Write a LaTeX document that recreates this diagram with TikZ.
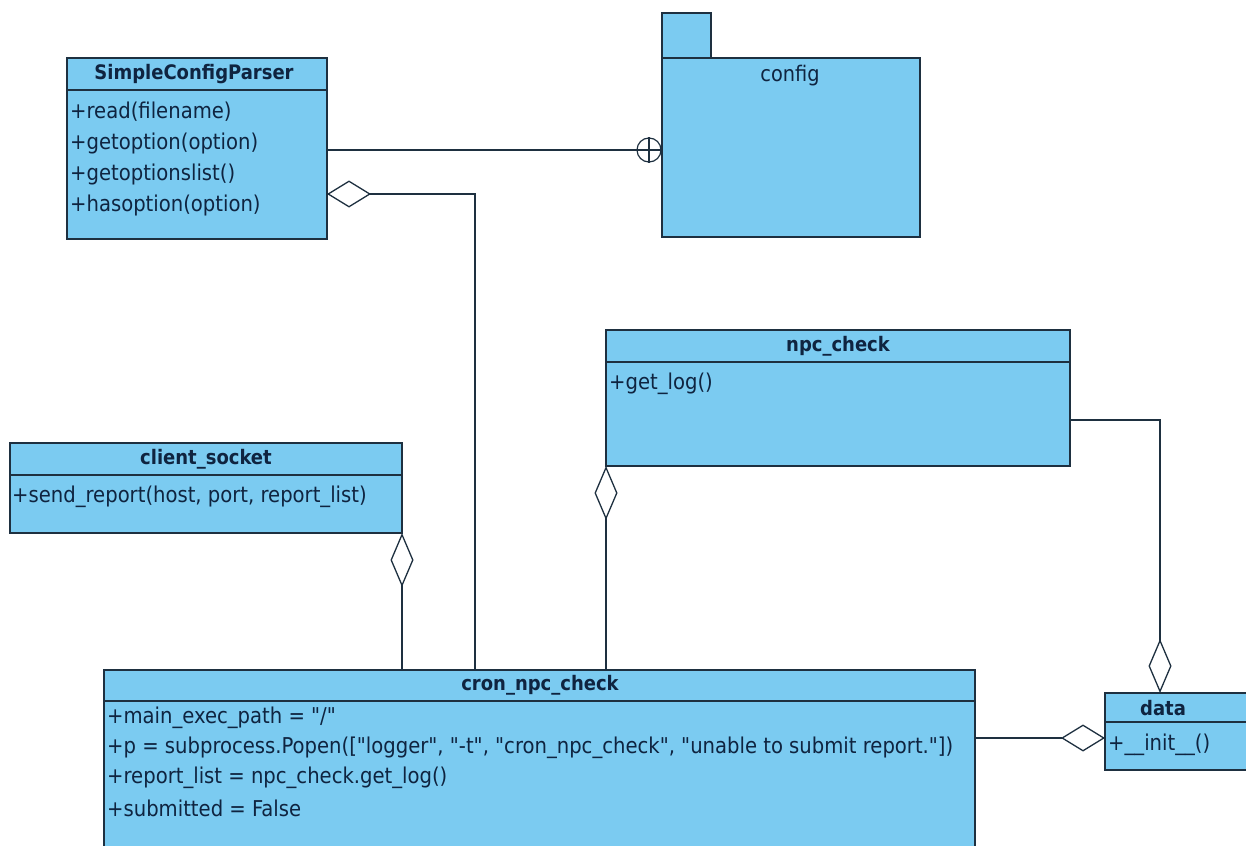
\documentclass[tikz,border=0pt]{standalone}
\usepackage{fontspec}
\setmainfont{DejaVu Sans Condensed}[Ligatures=TeXOff]
\usetikzlibrary{arrows.meta,calc}
\definecolor{boxfill}{HTML}{7BCBF1}
\definecolor{boxline}{HTML}{1E3040}
\definecolor{txt}{HTML}{0F2440}
\begin{document}
\begin{tikzpicture}[x=1pt,y=-1pt,
  cls/.style={draw=boxline, line width=1.7pt, fill=boxfill, anchor=north west, inner sep=0pt, outer sep=0pt},
  sep/.style={draw=boxline, line width=1.7pt},
  ttl/.style={font=\bfseries\fontsize{20}{24}\selectfont, text=txt, inner sep=0pt},
  mem/.style={anchor=west, font=\fontsize{21.8}{25}\selectfont, text=txt, inner sep=0pt},
  conn/.style={draw=boxline, line width=1.3pt},
  aggH/.style={conn, -{Diamond[length=44pt, width=27pt, fill=white]}},
  aggV/.style={conn, -{Diamond[length=54pt, width=23pt, fill=white]}}
]
\clip (0,0) rectangle (1246,845);
\fill[white] (0,0) rectangle (1246,845);

% SimpleConfigParser
\node[cls, minimum width=260pt, minimum height=181pt] (scp) at (67,58) {};
\draw[sep] ($(scp.north west)+(0,32)$) -- ($(scp.north east)+(0,32)$);
\node[ttl] (scpT) at (194,74) {SimpleConfigParser};
\node[mem] (scp1) at (70,112) {+read(filename)};
\node[mem] (scp2) at (70,143) {+getoption(option)};
\node[mem] (scp3) at (70,174) {+getoptionslist()};
\node[mem] (scp4) at (70,205) {+hasoption(option)};

% config package
\node[cls, minimum width=49pt, minimum height=45pt] (tab) at (662,13) {};
\node[cls, minimum width=258pt, minimum height=179pt] (cfg) at (662,58) {};
\node[font=\fontsize{21.5}{25}\selectfont, text=txt, inner sep=0pt] (cfgT) at (790,76) {config};

% npc_check
\node[cls, minimum width=464pt, minimum height=136pt] (npc) at (606,330) {};
\draw[sep] ($(npc.north west)+(0,32)$) -- ($(npc.north east)+(0,32)$);
\node[ttl] (npcT) at (838,346) {npc\_check};
\node[mem] (npc1) at (609,384) {+get\_log()};

% client_socket
\node[cls, minimum width=392pt, minimum height=90pt] (cs) at (10,443) {};
\draw[sep] ($(cs.north west)+(0,32)$) -- ($(cs.north east)+(0,32)$);
\node[ttl] (csT) at (206,459) {client\_socket};
\node[mem] (cs1) at (12,497) {+send\_report(host, port, report\_list)};

% cron_npc_check
\node[cls, minimum width=871pt, minimum height=190pt] (cron) at (104,670) {};
\draw[sep] ($(cron.north west)+(0,31)$) -- ($(cron.north east)+(0,31)$);
\node[ttl] (cronT) at (540,685) {cron\_npc\_check};
\node[mem] (cr1) at (107,718) {+main\_exec\_path = "/"};
\node[mem] (cr2) at (107,748) {+p = subprocess.Popen(["logger", "-t", "cron\_npc\_check", "unable to submit report."])};
\node[mem] (cr3) at (107,778) {+report\_list = npc\_check.get\_log()};
\node[mem] (cr4) at (107,808) {+submitted = False};

% data
\node[cls, minimum width=150pt, minimum height=77pt] (data) at (1105,693) {};
\draw[sep] ($(data.north west)+(0,29)$) -- ($(data.north east)+(0,29)$);
\node[ttl] (dataT) at (1163,708) {data};
\node[mem] (d1) at (1108,745) {+\_\_init\_\_()};

% nesting connector
\node[circle, draw=boxline, line width=1.2pt, fill=white, minimum size=24pt, inner sep=0pt] (cp) at (649,150) {};
\draw[conn] (cp.north) -- (cp.south) (cp.west) -- (cp.east);
\draw[conn] (scp.east |- cp) -- (cp.west);

% aggregations
\coordinate (k1) at (475,194);
\draw[aggH] (cron.north -| k1) -- (k1) -- (scp.east |- k1);
\draw[aggV] (cron.north -| cs.south east) -- (cs.south east);
\draw[aggV] (cron.north -| npc.south west) -- (npc.south west);
\coordinate (k2) at (1160,420);
\draw[aggV] (npc.east |- k2) -- (k2) -- (data.north -| k2);
\coordinate (k3) at (1020,738);
\draw[aggH] (cron.east |- k3) -- (data.west |- k3);
\end{tikzpicture}
\end{document}
